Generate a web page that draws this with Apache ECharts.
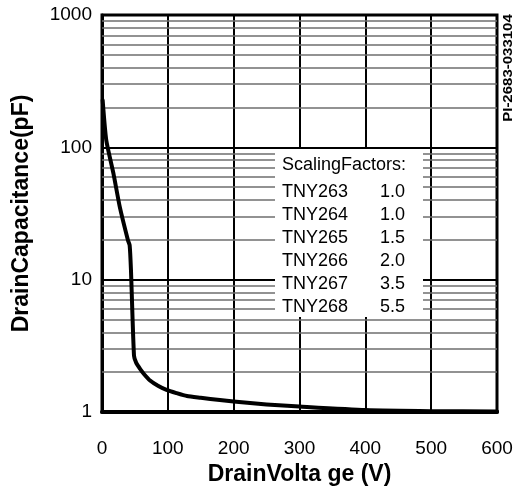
<!DOCTYPE html>
<html>
<head>
<meta charset="utf-8">
<script src="https://cdn.jsdelivr.net/npm/echarts@6/dist/echarts.min.js"></script>
<style>html,body{margin:0;padding:0;background:#fff}#c{width:517px;height:495px}</style>
</head>
<body>
<div id="c"></div>
<script>
var voltage = [1, 6.5, 17.5, 27, 39.5, 42, 44, 48.6, 52, 57.8, 64, 73, 85, 98, 113, 129, 150, 179, 200, 250, 300, 400, 500, 600];
var capacitance = [227, 113, 63, 35.5, 19.8, 18.2, 11.8, 2.67, 2.35, 2.12, 1.93, 1.73, 1.58, 1.47, 1.39, 1.32, 1.28, 1.23, 1.2, 1.14, 1.1, 1.035, 1.015, 1.01];
var xTicks = [0, 100, 200, 300, 400, 500, 600];
var yDecades = [1, 10, 100, 1000];
var partNames = ['TNY263', 'TNY264', 'TNY265', 'TNY266', 'TNY267', 'TNY268'];
var scalingFactors = ['1.0', '1.0', '1.5', '2.0', '3.5', '5.5'];
var boxTitle = 'ScalingFactors:';
var docId = 'PI-2683-033104';

var minorLines = [];
for (var d = 0; d < yDecades.length - 1; d++) {
  for (var k = 2; k <= 9; k++) minorLines.push({ yAxis: yDecades[d] * k });
}

var FONT = '"Liberation Sans", Arial, Helvetica, sans-serif';
var chart = echarts.init(document.getElementById('c'));

var graphics = [
  { type: 'rect', z: 20, shape: { x: 275, y: 149, width: 148, height: 168 }, style: { fill: '#fff' } },
  { type: 'text', z: 21, x: 282, y: 165, style: { text: boxTitle, font: '18px ' + FONT, fill: '#000', verticalAlign: 'middle', align: 'left' } },
  { type: 'text', z: 21, rotation: Math.PI / 2, x: 509, y: 68, scaleX: 1.25,
    style: { text: docId, font: 'bold 12px ' + FONT, fill: '#000', align: 'center', verticalAlign: 'middle' } }
];
for (var i = 0; i < partNames.length; i++) {
  var yy = 192 + 23 * i;
  graphics.push({ type: 'text', z: 21, x: 282, y: yy, style: { text: partNames[i], font: '18px ' + FONT, fill: '#000', verticalAlign: 'middle' } });
  graphics.push({ type: 'text', z: 21, x: 380, y: yy, style: { text: scalingFactors[i], font: '18px ' + FONT, fill: '#000', verticalAlign: 'middle' } });
}

chart.setOption({
  animation: false,
  backgroundColor: '#fff',
  grid: { left: 102, top: 15, width: 395, height: 397, show: true, borderColor: '#000', borderWidth: 3, containLabel: false },
  xAxis: {
    type: 'value', min: 0, max: 600, interval: 100,
    name: 'DrainVolta ge (V)', nameLocation: 'middle', nameGap: 50,
    nameTextStyle: { fontFamily: FONT, fontWeight: 'bold', fontSize: 23, color: '#000' },
    axisLine: { show: true, lineStyle: { color: '#000', width: 4 } },
    axisTick: { show: false },
    axisLabel: { fontFamily: FONT, fontSize: 19, color: '#000', margin: 27 },
    splitLine: { show: true, lineStyle: { color: '#000', width: 2 } }
  },
  yAxis: {
    type: 'log', logBase: 10, min: 1, max: 1000,
    name: 'DrainCapacitance(pF)', nameLocation: 'middle', nameGap: 69,
    nameTextStyle: { fontFamily: FONT, fontWeight: 'bold', fontSize: 23, color: '#000' },
    axisLine: { show: true, lineStyle: { color: '#000', width: 3 } },
    axisTick: { show: false },
    axisLabel: { fontFamily: FONT, fontSize: 19, color: '#000', margin: 10,
      formatter: function (v) { return String(Math.round(v)); } },
    splitLine: { show: true, lineStyle: { color: '#000', width: 2 } }
  },
  graphic: graphics,
  series: [
    {
      type: 'line', z: 30,
      data: voltage.map(function (v, i) { return [v, capacitance[i]]; }),
      showSymbol: false, symbol: 'none', smooth: 0.2,
      lineStyle: { color: '#000', width: 4, join: 'round', cap: 'round' },
      markLine: {
        silent: true, symbol: ['none', 'none'], z: 5,
        label: { show: false },
        lineStyle: { color: '#6e6e6e', width: 1.5, type: 'solid' },
        data: minorLines
      }
    }
  ]
});
</script>
</body>
</html>
